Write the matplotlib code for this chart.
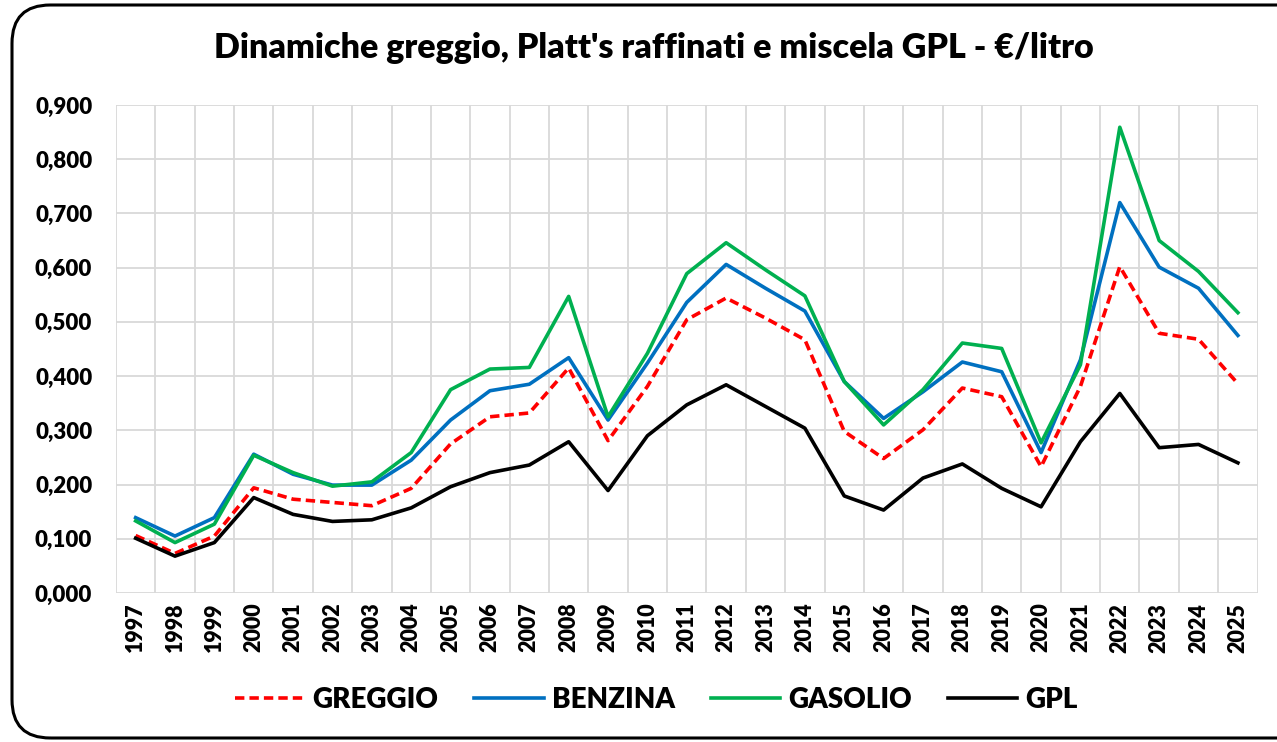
import numpy as np
import matplotlib.pyplot as plt
from matplotlib.patches import FancyBboxPatch
from matplotlib.ticker import FuncFormatter

plt.rcParams['font.family'] = ['Lato', 'DejaVu Sans']

years = [str(y) for y in range(1997, 2026)]
greggio = [0.106, 0.073, 0.105, 0.194, 0.173, 0.167, 0.161, 0.193, 0.275, 0.325,
           0.332, 0.415, 0.281, 0.381, 0.504, 0.544, 0.507, 0.467, 0.298, 0.248,
           0.301, 0.378, 0.362, 0.233, 0.381, 0.602, 0.479, 0.468, 0.386]
benzina = [0.139, 0.105, 0.139, 0.256, 0.219, 0.199, 0.199, 0.245, 0.319, 0.373,
           0.385, 0.434, 0.319, 0.424, 0.536, 0.606, 0.562, 0.520, 0.390, 0.322,
           0.371, 0.426, 0.408, 0.259, 0.430, 0.720, 0.601, 0.562, 0.475]
gasolio = [0.133, 0.093, 0.127, 0.254, 0.222, 0.197, 0.205, 0.259, 0.375, 0.413,
           0.416, 0.547, 0.325, 0.442, 0.589, 0.646, 0.596, 0.548, 0.390, 0.310,
           0.375, 0.461, 0.451, 0.277, 0.421, 0.859, 0.650, 0.593, 0.517]
gpl = [0.101, 0.068, 0.093, 0.176, 0.145, 0.132, 0.135, 0.157, 0.196, 0.222,
       0.236, 0.279, 0.189, 0.290, 0.347, 0.384, 0.344, 0.304, 0.179, 0.153,
       0.212, 0.238, 0.193, 0.159, 0.279, 0.368, 0.268, 0.274, 0.240]

fig = plt.figure(figsize=(12.77, 7.42), dpi=100)
ax = fig.add_axes([0.0908, 0.2008, 0.894, 0.6577])

x = np.arange(len(years))
ax.plot(x, greggio, color='#FF0000', lw=2.6, dashes=(2.6, 1.4), label='GREGGIO')
ax.plot(x, benzina, color='#0070C0', lw=2.6, label='BENZINA')
ax.plot(x, gasolio, color='#00B050', lw=2.6, label='GASOLIO')
ax.plot(x, gpl, color='black', lw=2.6, label='GPL')

ax.set_xlim(-0.5, len(years) - 0.5)
ax.set_ylim(0, 0.9)
ax.set_yticks(np.arange(0, 0.91, 0.1))
ax.yaxis.set_major_formatter(FuncFormatter(lambda v, p: f'{v:.3f}'.replace('.', ',')))
ax.set_xticks(x)
ax.set_xticklabels(years, rotation=90, fontsize=15.5, fontweight='heavy')
ax.set_xticks(np.arange(-0.5, len(years)), minor=True)
for lab in ax.get_yticklabels():
    lab.set_fontsize(16)
    lab.set_fontweight('heavy')
ax.tick_params(axis='both', which='both', length=0)
ax.tick_params(axis='y', pad=17)
ax.tick_params(axis='x', pad=7)
ax.grid(True, axis='y', which='major', color='#d9d9d9', lw=1.3)
ax.grid(True, axis='x', which='minor', color='#d9d9d9', lw=1.3)
for s in ax.spines.values():
    s.set_visible(False)
ax.set_axisbelow(True)

fig.text(0.512, 0.935, "Dinamiche greggio, Platt's raffinati e miscela GPL - €/litro",
         ha='center', va='center', fontsize=24.5, fontweight='heavy')

fig.legend(loc='center', bbox_to_anchor=(0.514, 0.057), ncol=4, frameon=False,
           prop={'size': 20, 'weight': 'heavy'}, handlelength=2.5, columnspacing=1.3,
           handletextpad=0.28)

frame = FancyBboxPatch((12 / 1277, 4 / 742), 1.05, 733 / 742,
                       boxstyle='round,pad=0,rounding_size=0.03',
                       transform=fig.transFigure, fill=False, ec='black', lw=2.2,
                       mutation_aspect=1277 / 742)
fig.patches.append(frame)

fig.savefig('out.png', dpi=100)
